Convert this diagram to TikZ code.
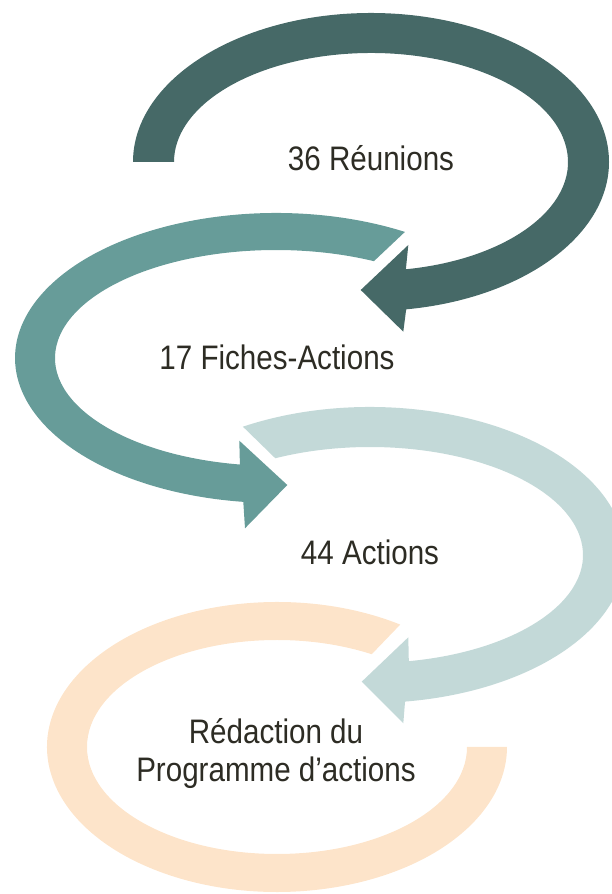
\documentclass[tikz,border=0pt]{standalone}
\usepackage{fontspec}
\setmainfont{Liberation Sans}[FakeStretch=0.87]
\usetikzlibrary{calc}

\definecolor{tealdark}{HTML}{466967}
\definecolor{tealmid}{HTML}{679C99}
\definecolor{teallight}{HTML}{C3D9D8}
\definecolor{peach}{HTML}{FDE4CA}
\definecolor{inkbrown}{HTML}{2D2C24}

\begin{document}
\begin{tikzpicture}[x=1pt, y=1pt, band/.style={fill=#1, draw=none}, lbl/.style={anchor=base, text=inkbrown, font=\fontsize{34}{38.4}\selectfont, align=center, inner sep=0pt}]

  \useasboundingbox (0,0) rectangle (612,894);

  % Centres of the loops
  \coordinate (C1) at (371,732);
  \coordinate (C2) at (276,536);
  \coordinate (C3) at (370,339);
  \coordinate (C4) at (277,147);

  % First loop
  \fill[band=tealdark] ($(C1)+(180:238 and 149)$) arc[start angle=180, end angle=-81.5, x radius=238, y radius=149]
    -- (403.3,562.3) -- (360.7,604) -- (408.3,649)
    -- ($(C1)+(-79.8:197 and 109)$) arc[start angle=-79.8, end angle=180, x radius=197, y radius=109] -- cycle;

  % Second loop
  \fill[band=tealmid] ($(C2)+(60.4:261 and 145)$) arc[start angle=60.4, end angle=262.8, x radius=261, y radius=145]
    -- (245,365.7) -- (287.3,409) -- (239.3,453.3)
    -- ($(C2)+(260.6:221 and 108)$) arc[start angle=260.6, end angle=63.7, x radius=221, y radius=108] -- cycle;

  % Third loop
  \fill[band=teallight] ($(C3)+(119.9:255 and 148)$) arc[start angle=119.9, end angle=-82.1, x radius=255, y radius=148]
    -- (403.3,170.7) -- (361.7,212.3) -- (408.3,256.7)
    -- ($(C3)+(-79.5:213 and 108)$) arc[start angle=-79.5, end angle=116.4, x radius=213, y radius=108] -- cycle;

  % Last loop
  \fill[band=peach] ($(C4)+(57.6:230 and 145)$) arc[start angle=57.6, end angle=360, x radius=230, y radius=145]
    -- ($(C4)+(0:190 and 107)$) arc[start angle=360, end angle=60.1, x radius=190, y radius=107] -- cycle;

  % Labels
  \node[lbl] (T1) at (371,723.3) {36 Réunions};
  \node[lbl] (T2) at (277,524.7) {17 Fiches-Actions};
  \node[lbl] (T3) at (370,329) {44 Actions};
  \node[lbl] (T4) at (276,112.3) {Rédaction du\\Programme d’actions};

\end{tikzpicture}
\end{document}
